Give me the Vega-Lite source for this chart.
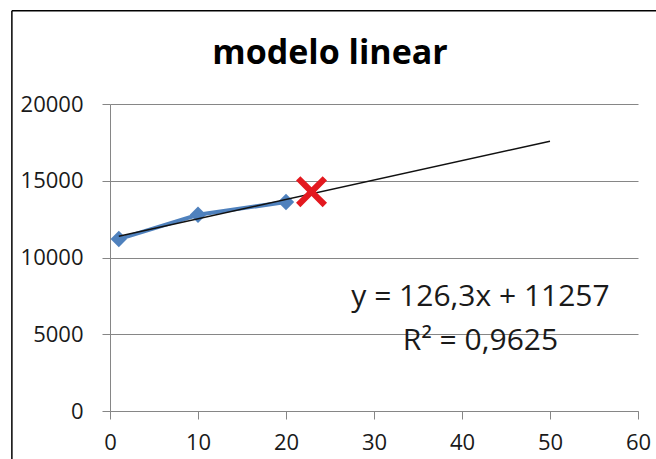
{
  "$schema": "https://vega.github.io/schema/vega-lite/v6.json",
  "width": 528,
  "height": 307,
  "autosize": {"type": "none"},
  "padding": {"left": 110, "top": 104, "right": 18, "bottom": 48},
  "background": "white",
  "title": {"text": "modelo linear", "font": "Open Sans", "fontSize": 34, "fontWeight": "bold", "color": "#000000", "anchor": "middle", "frame": "group", "baseline": "alphabetic", "offset": 0, "dx": -44, "dy": 88},
  "config": {"view": {"stroke": null}, "font": "Open Sans"},
  "datasets": {
    "obs": [
      {"x": 1, "y": 11200},
      {"x": 10, "y": 12780},
      {"x": 20, "y": 13620}
    ],
    "trend": [
      {"x": 1, "y": 11383},
      {"x": 50, "y": 17572}
    ],
    "pred": [
      {"x": 22.9, "y": 14290}
    ],
    "eq": [
      {"x": 42.1, "y": 7450, "label": "y = 126,3x + 11257"},
      {"x": 42.1, "y": 4530, "label": "R² = 0,9625"}
    ],
    "frame": [
      {"x": -11.15, "y": 26070, "x2": -11.15, "y2": -12000},
      {"x": -11.15, "y": 26070, "x2": 75, "y2": 26070}
    ]
  },
  "encoding": {
    "x": {"field": "x", "type": "quantitative", "scale": {"domain": [0, 60], "nice": false, "zero": false},
      "axis": {"title": null, "grid": false, "values": [0, 10, 20, 30, 40, 50, 60], "format": "d", "domainColor": "#868686", "tickColor": "#868686", "tickSize": 8, "labelPadding": 13, "labelFontSize": 22, "labelColor": "#1a1a1a", "labelFont": "Open Sans", "labelFlush": false}},
    "y": {"field": "y", "type": "quantitative", "scale": {"domain": [0, 20000], "nice": false},
      "axis": {"title": null, "grid": true, "gridColor": "#868686", "values": [0, 5000, 10000, 15000, 20000], "format": "d", "domainColor": "#868686", "tickColor": "#868686", "tickSize": 8, "labelPadding": 19, "labelFontSize": 22, "labelColor": "#1a1a1a", "labelFont": "Open Sans", "labelFlush": false}}
  },
  "layer": [
    {
      "data": {"name": "frame"},
      "mark": {"type": "rule", "color": "#000000", "strokeWidth": 1.5, "clip": false},
      "encoding": {
        "x2": {"field": "x2"},
        "y2": {"field": "y2"}
      }
    },
    {
      "data": {"name": "obs"},
      "mark": {"type": "line", "color": "#4F81BD", "strokeWidth": 4}
    },
    {
      "data": {"name": "obs"},
      "mark": {"type": "point", "shape": "diamond", "filled": true, "color": "#4F81BD", "size": 270, "opacity": 1}
    },
    {
      "data": {"name": "trend"},
      "mark": {"type": "line", "color": "#111111", "strokeWidth": 1.4}
    },
    {
      "data": {"name": "pred"},
      "mark": {"type": "point", "shape": "M-1,-0.72L-0.72,-1L0,-0.28L0.72,-1L1,-0.72L0.28,0L1,0.72L0.72,1L0,0.28L-0.72,1L-1,0.72L-0.28,0Z", "filled": true, "color": "#E3191F", "size": 960, "opacity": 1}
    },
    {
      "data": {"name": "eq"},
      "mark": {"type": "text", "font": "Open Sans", "fontSize": 30, "letterSpacing": 1, "color": "#1a1a1a", "align": "center", "baseline": "middle"},
      "encoding": {"text": {"field": "label"}}
    }
  ]
}
